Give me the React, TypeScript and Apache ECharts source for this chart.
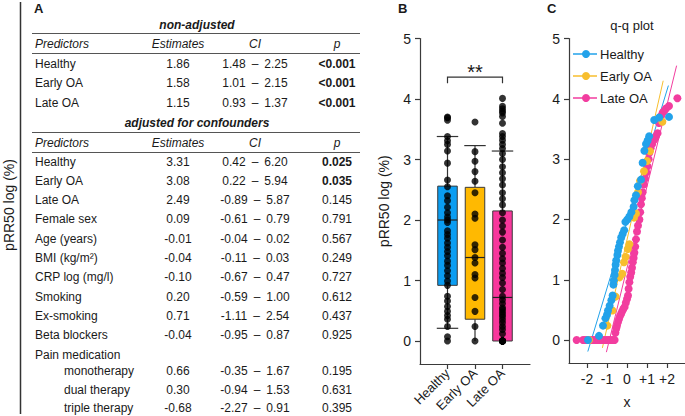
import React, { useEffect, useRef } from "react";
import * as echarts from "echarts";

const FONT = '"Liberation Sans", Arial, Helvetica, sans-serif';

// ---------- Panel A: regression table ----------
const nonAdjPredictors = ["Healthy", "Early OA", "Late OA"];
const nonAdjEstimates = ["1.86", "1.58", "1.15"];
const nonAdjCI = ["1.48 – 2.25", "1.01 – 2.15", "0.93 – 1.37"];
const nonAdjP = ["<0.001", "<0.001", "<0.001"];
const nonAdjBold = [true, true, true];

const adjPredictors = [
  "Healthy", "Early OA", "Late OA", "Female sex", "Age (years)", "BMI (kg/m²)",
  "CRP log (mg/l)", "Smoking", "Ex-smoking", "Beta blockers", "Pain medication",
  "monotherapy", "dual therapy", "triple therapy",
];
const adjIndent = [false, false, false, false, false, false, false, false, false, false, false, true, true, true];
const adjEstimates = ["3.31", "3.08", "2.49", "0.09", "-0.01", "-0.04", "-0.10", "0.20", "0.71", "-0.04", "", "0.66", "0.30", "-0.68"];
const adjCI = [
  "0.42 – 6.20", "0.22 – 5.94", "-0.89 – 5.87", "-0.61 – 0.79", "-0.04 – 0.02", "-0.11 – 0.03",
  "-0.67 – 0.47", "-0.59 – 1.00", "-1.11 – 2.54", "-0.95 – 0.87", "", "-0.35 – 1.67", "-0.94 – 1.53", "-2.27 – 0.91",
];
const adjP = ["0.025", "0.035", "0.145", "0.791", "0.567", "0.249", "0.727", "0.612", "0.437", "0.925", "", "0.195", "0.631", "0.395"];
const adjBold = [true, true, false, false, false, false, false, false, false, false, false, false, false, false];
const headerCells = ["Predictors", "Estimates", "CI", "p"];

// ---------- Panel B: box plot ----------
const groups = ["Healthy", "Early OA", "Late OA"];
const boxMin = [0.21, 0.0, 0.0];
const boxQ1 = [0.92, 0.36, 0.0];
const boxMedian = [2.0, 1.38, 0.72];
const boxQ3 = [2.56, 2.54, 2.15];
const boxMax = [3.38, 3.23, 3.14];
const yTicks = [0, 1, 2, 3, 4, 5];

// ---------- Panel C: q-q plot points [theoretical quantile, pRR50 log] ----------
const healthyQQ = [
  [-1.95, 0.0], [-1.4, 0.07], [-1.2, 0.24], [-1.08, 0.36], [-1.0, 0.42], [-0.95, 0.49],
  [-0.87, 0.57], [-0.78, 0.66], [-0.72, 0.74], [-0.68, 0.92], [-0.66, 0.99], [-0.62, 1.08],
  [-0.6, 1.16], [-0.57, 1.25], [-0.54, 1.32], [-0.48, 1.41], [-0.45, 1.48], [-0.4, 1.55],
  [-0.35, 1.62], [-0.29, 1.7], [-0.22, 1.76], [-0.14, 1.82], [-0.08, 1.96], [0.02, 2.0],
  [0.12, 2.05], [0.22, 2.12], [0.33, 2.21], [0.37, 2.32], [0.45, 2.4], [0.54, 2.55],
  [0.7, 2.66], [0.78, 2.94], [0.87, 3.14], [0.95, 3.25], [1.03, 3.31], [1.11, 3.38],
  [1.36, 3.65], [1.61, 3.69], [2.1, 3.7],
];
const earlyQQ = [
  [-1.9, 0.0], [-0.98, 0.24], [-0.73, 0.49], [-0.57, 0.72], [-0.37, 1.04], [-0.24, 1.1],
  [-0.15, 1.29], [-0.07, 1.38], [0.04, 1.51], [0.12, 1.59], [0.35, 2.03], [0.45, 2.1],
  [0.55, 2.45], [0.65, 2.64], [0.85, 2.8], [1.0, 2.97], [1.15, 3.13], [1.77, 3.62],
];
const lateQQ = [
  [-2.52, 0], [-2.2, 0], [-2.1, 0], [-2.0, 0], [-1.9, 0], [-1.8, 0], [-1.7, 0], [-1.6, 0],
  [-1.5, 0], [-1.4, 0], [-1.3, 0], [-1.2, 0], [-1.1, 0], [-1.0, 0], [-0.9, 0], [-0.8, 0],
  [-0.7, 0], [-0.62, 0],
  [-0.58, 0.12], [-0.54, 0.19], [-0.5, 0.24], [-0.45, 0.3], [-0.4, 0.35], [-0.35, 0.4],
  [-0.29, 0.44], [-0.24, 0.48], [-0.18, 0.52], [-0.12, 0.55], [-0.06, 0.62], [0.0, 0.68],
  [0.05, 0.74], [0.08, 0.85], [0.12, 0.96], [0.16, 1.05], [0.21, 1.12], [0.25, 1.2],
  [0.29, 1.29], [0.33, 1.36], [0.37, 1.45], [0.41, 1.55], [0.45, 1.67], [0.5, 1.8],
  [0.55, 1.9], [0.62, 2.0], [0.66, 2.12], [0.7, 2.25], [0.74, 2.35], [0.78, 2.45],
  [0.84, 2.58], [0.9, 2.68], [0.97, 2.78], [1.03, 2.88], [1.08, 3.0], [1.11, 3.1],
  [1.18, 3.18], [1.26, 3.25], [1.36, 3.32], [1.45, 3.38], [1.53, 3.43], [1.6, 3.6],
  [1.69, 3.71], [1.78, 3.77], [1.86, 3.8], [1.95, 3.84], [2.1, 3.88], [2.52, 4.01],
];
const healthyRefLine = [[-1.96, -0.19], [2.07, 4.22]];
const earlyRefLine = [[-1.23, -0.13], [1.81, 4.3]];
const lateRefLine = [[-1.03, -0.2], [2.48, 4.55]];
const qqXTicks = [-2, -1, 0, 1, 2];

const boxColors = ["#0a9df2", "#ffb901", "#f8379c"];
const qqColors = ["#22a2ea", "#f7be2e", "#f23d9f"];
const TEXT = "#1a1a1a";
const AXIS = "#3a3a3a";

function txt(text: string, x: number, y: number, o: any = {}) {
  return {
    type: "text",
    x,
    y,
    rotation: o.rotation || 0,
    silent: true,
    style: {
      text,
      fill: o.fill || TEXT,
      fontFamily: FONT,
      fontSize: o.size || 12,
      fontWeight: o.bold ? "bold" : "normal",
      fontStyle: o.italic ? "italic" : "normal",
      align: o.align || "left",
      verticalAlign: "middle",
      textAlign: o.align || "left",
      textVerticalAlign: "middle",
    },
  };
}
function hline(x1: number, x2: number, y: number, w = 1.2, c = "#555") {
  return { type: "line", silent: true, shape: { x1, y1: y, x2, y2: y }, style: { stroke: c, lineWidth: w } };
}
const ciText = (s: string) => s.replace(" – ", "\u2002–\u2002");

function tableGraphics() {
  const g: any[] = [];
  const L = 32, R = 360, cPred = 35, cEst = 178, cCI = 255, cP = 337, cInd = 64;
  g.push(txt("A", 34, 8, { bold: true, size: 13 }));
  g.push(txt("non-adjusted", 197, 24.5, { bold: true, italic: true, align: "center" }));
  g.push(hline(L, R, 33.5));
  const header = (y: number) => {
    const xs = [cPred, cEst, cCI, cP];
    headerCells.forEach((h, i) => g.push(txt(h, xs[i], y, { italic: true, align: i === 0 ? "left" : "center" })));
  };
  header(43.5);
  g.push(hline(L, R, 53.5));
  const nonY = [63.5, 83, 102.5];
  nonAdjPredictors.forEach((p, i) => {
    g.push(txt(p, cPred, nonY[i]));
    g.push(txt(nonAdjEstimates[i], cEst, nonY[i], { align: "center" }));
    g.push(txt(ciText(nonAdjCI[i]), cCI, nonY[i], { align: "center" }));
    g.push(txt(nonAdjP[i], cP, nonY[i], { align: "center", bold: nonAdjBold[i] }));
  });
  g.push(txt("adjusted for confounders", 197, 122.5, { bold: true, italic: true, align: "center" }));
  g.push(hline(L, R, 132.5));
  header(142.5);
  g.push(hline(L, R, 152.5));
  const subY = [371, 389.5, 408];
  adjPredictors.forEach((p, i) => {
    const y = i <= 10 ? 161.5 + 19.3 * i : subY[i - 11];
    g.push(txt(p, adjIndent[i] ? cInd : cPred, y));
    if (adjEstimates[i]) g.push(txt(adjEstimates[i], cEst, y, { align: "center" }));
    if (adjCI[i]) g.push(txt(ciText(adjCI[i]), cCI, y, { align: "center" }));
    if (adjP[i]) g.push(txt(adjP[i], cP, y, { align: "center", bold: adjBold[i] }));
  });
  // truncated axis on the far left
  g.push({ type: "line", silent: true, shape: { x1: 20.5, y1: 2, x2: 20.5, y2: 414 }, style: { stroke: "#333", lineWidth: 1.5 } });
  g.push(txt("pRR50 log (%)", 9, 205, { align: "center", size: 14, rotation: Math.PI / 2 }));
  return g;
}

function otherGraphics() {
  const g: any[] = [];
  g.push(txt("B", 398, 8, { bold: true, size: 13 }));
  g.push(txt("C", 547, 8, { bold: true, size: 13 }));
  g.push(txt("q-q plot", 632, 25, { align: "center", size: 13 }));
  groups.forEach((name, i) => {
    const y = 54 + 22 * i;
    g.push({ type: "line", silent: true, shape: { x1: 573, y1: y, x2: 597, y2: y }, style: { stroke: qqColors[i], lineWidth: 1.5 } });
    g.push({ type: "circle", silent: true, shape: { cx: 586, cy: y, r: 4 }, style: { fill: qqColors[i] } });
    g.push(txt(name, 600, y, { size: 13 }));
  });
  return g;
}

export default function App() {
  const ref = useRef<HTMLDivElement>(null);
  useEffect(() => {
    if (!ref.current) return;
    const chart = echarts.init(ref.current, null, { renderer: "svg" });

    const boxData = groups.map((_, i) => [i + 1, boxMin[i], boxQ1[i], boxMedian[i], boxQ3[i], boxMax[i]]);
    const qqSets = [healthyQQ, earlyQQ, lateQQ];
    const refLines = [healthyRefLine, earlyRefLine, lateRefLine];

    const axisLabelStyle = { color: TEXT, fontSize: 14, fontFamily: FONT };
    const yAxisCommon = {
      type: "value",
      min: -0.38,
      max: 5,
      splitLine: { show: false },
      axisLine: { show: true, onZero: false, lineStyle: { color: AXIS, width: 1.2 } },
      axisTick: { show: true, length: 5, customValues: yTicks, lineStyle: { color: AXIS, width: 1.2 } },
      axisLabel: { ...axisLabelStyle, margin: 9, customValues: yTicks },
    };

    const option: any = {
      animation: false,
      backgroundColor: "#ffffff",
      textStyle: { fontFamily: FONT },
      grid: [
        { left: 420, top: 38.5, width: 110, height: 325.5, outerBoundsMode: "none", containLabel: false },
        { left: 569, top: 38.5, width: 116, height: 324.5, outerBoundsMode: "none", containLabel: false },
      ],
      xAxis: [
        {
          gridIndex: 0,
          type: "value",
          min: 0,
          max: 4,
          splitLine: { show: false },
          axisLine: { show: true, onZero: false, lineStyle: { color: AXIS, width: 1.2 } },
          axisTick: { show: true, length: 5, customValues: [1, 2, 3], lineStyle: { color: AXIS, width: 1.2 } },
          axisLabel: {
            ...axisLabelStyle,
            fontSize: 13,
            rotate: 45,
            margin: 7,
            customValues: [1, 2, 3],
            formatter: (v: number) => groups[Math.round(v) - 1] || "",
          },
        },
        {
          gridIndex: 1,
          type: "value",
          min: -2.9,
          max: 2.9,
          splitLine: { show: false },
          axisLine: { show: true, onZero: false, lineStyle: { color: AXIS, width: 1.2 } },
          axisTick: { show: true, length: 5, customValues: qqXTicks, lineStyle: { color: AXIS, width: 1.2 } },
          axisLabel: {
            ...axisLabelStyle,
            margin: 9,
            customValues: qqXTicks,
            formatter: (v: number) => (v > 0 ? "+" + v : String(v)),
          },
          name: "x",
          nameLocation: "middle",
          nameGap: 32,
          nameTextStyle: { color: TEXT, fontSize: 14, fontFamily: FONT },
        },
      ],
      yAxis: [
        {
          gridIndex: 0,
          ...yAxisCommon,
          name: "pRR50 log (%)",
          nameLocation: "middle",
          nameGap: 29,
          nameRotate: 90,
          nameTextStyle: { color: TEXT, fontSize: 14, fontFamily: FONT },
        },
        { gridIndex: 1, ...yAxisCommon },
      ],
      graphic: [...tableGraphics(), ...otherGraphics()],
      series: [
        {
          type: "custom",
          xAxisIndex: 0,
          yAxisIndex: 0,
          data: boxData,
          encode: { x: 0, y: [1, 2, 3, 4, 5] },
          z: 2,
          renderItem: (params: any, api: any) => {
            const x = api.value(0);
            const mn = api.value(1), q1 = api.value(2), md = api.value(3), q3 = api.value(4), mx = api.value(5);
            const half = api.size([0.71, 0])[0] / 2;
            const capHalf = api.size([0.78, 0])[0] / 2;
            const pMn = api.coord([x, mn]), pQ1 = api.coord([x, q1]), pMd = api.coord([x, md]);
            const pQ3 = api.coord([x, q3]), pMx = api.coord([x, mx]);
            const cx = pQ1[0];
            const lineStyle = { stroke: "#333", lineWidth: 1.2 };
            const children: any[] = [
              { type: "line", shape: { x1: cx, y1: pQ3[1], x2: cx, y2: pMx[1] }, style: lineStyle },
              { type: "line", shape: { x1: cx - capHalf, y1: pMx[1], x2: cx + capHalf, y2: pMx[1] }, style: lineStyle },
            ];
            if (mn < q1) {
              children.push({ type: "line", shape: { x1: cx, y1: pQ1[1], x2: cx, y2: pMn[1] }, style: lineStyle });
              if (mn > 0)
                children.push({ type: "line", shape: { x1: cx - capHalf, y1: pMn[1], x2: cx + capHalf, y2: pMn[1] }, style: lineStyle });
            }
            children.push({
              type: "rect",
              shape: { x: cx - half, y: pQ3[1], width: half * 2, height: pQ1[1] - pQ3[1] },
              style: { fill: boxColors[params.dataIndex], stroke: "#3a3a3a", lineWidth: 1 },
            });
            children.push({ type: "line", shape: { x1: cx - half, y1: pMd[1], x2: cx + half, y2: pMd[1] }, style: { stroke: "#222", lineWidth: 1.2 } });
            return { type: "group", children };
          },
        },
        ...qqSets.map((set, gi) => ({
          type: "scatter",
          xAxisIndex: 0,
          yAxisIndex: 0,
          symbol: "circle",
          symbolSize: 7,
          z: 3,
          itemStyle: { color: "#000" },
          data: set.map((p) => [gi + 1, p[1]]),
        })),
        {
          type: "custom",
          xAxisIndex: 0,
          yAxisIndex: 0,
          data: [[1, 3, 4.36, 4.26]],
          encode: { x: [0, 1], y: [2, 3] },
          z: 4,
          renderItem: (_p: any, api: any) => {
            const a = api.coord([api.value(0), api.value(3)]);
            const b = api.coord([api.value(0), api.value(2)]);
            const c = api.coord([api.value(1), api.value(2)]);
            const d = api.coord([api.value(1), api.value(3)]);
            return {
              type: "group",
              children: [
                { type: "polyline", shape: { points: [a, b, c, d] }, style: { stroke: "#333", lineWidth: 1.2, fill: "none" } },
                {
                  type: "text",
                  x: (b[0] + c[0]) / 2,
                  y: b[1] - 5.5,
                  style: { text: "**", fontSize: 20, fontFamily: FONT, fill: TEXT, align: "center", verticalAlign: "middle" },
                },
              ],
            };
          },
        },
        ...refLines.map((ln, gi) => ({
          type: "line",
          xAxisIndex: 1,
          yAxisIndex: 1,
          data: ln,
          symbol: "none",
          z: 2,
          lineStyle: { color: qqColors[gi], width: 1 },
        })),
        ...[2, 1, 0].map((gi) => ({
          type: "scatter",
          xAxisIndex: 1,
          yAxisIndex: 1,
          symbol: "circle",
          symbolSize: 8,
          z: 3,
          itemStyle: { color: qqColors[gi], opacity: 1 },
          data: qqSets[gi],
        })),
      ],
    };
    chart.setOption(option);
    return () => chart.dispose();
  }, []);

  return (
    <div
      ref={ref}
      style={{ position: "fixed", left: 0, top: 0, width: 685, height: 416, background: "#fff" }}
    />
  );
}
